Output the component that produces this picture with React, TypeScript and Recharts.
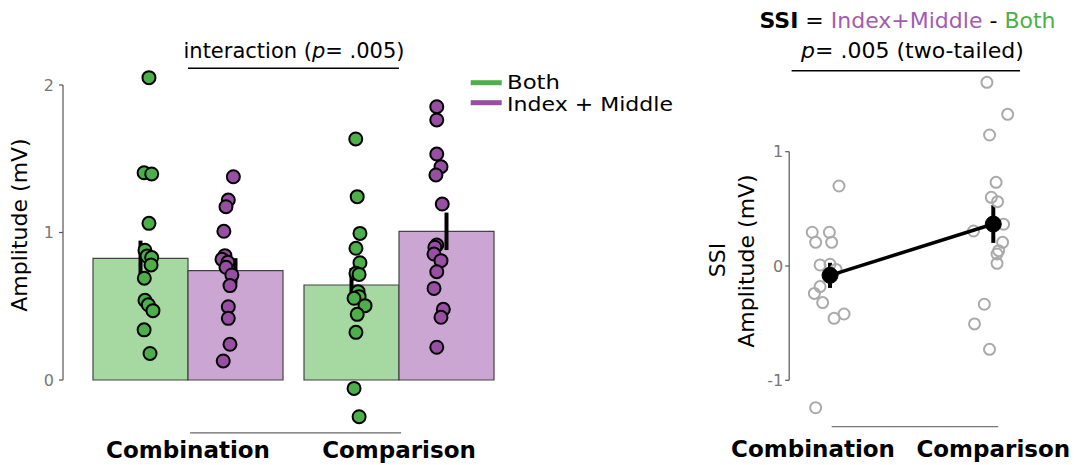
import React from 'react';
import { ComposedChart, Bar, Scatter, XAxis, YAxis, ErrorBar, ReferenceLine } from 'recharts';

// ---------- data ----------
const categories = ['Combination', 'Comparison'];
const bothMeans = [0.825, 0.644];
const bothSE = [0.12, 0.115];
const indexMiddleMeans = [0.741, 1.008];
const indexMiddleSE = [0.085, 0.127];

const combinationBoth = [2.05, 1.405, 1.397, 1.062, 0.88, 0.84, 0.83, 0.78, 0.69, 0.54, 0.51, 0.47, 0.34, 0.18];
const combinationBothJitter = [0.04, 0.017, 0.053, 0.04, 0.021, 0.031, 0.053, 0.05, 0.018, 0.021, 0.037, 0.059, 0.017, 0.045];
const combinationIM = [1.378, 1.22, 1.175, 1.008, 0.843, 0.818, 0.798, 0.764, 0.712, 0.64, 0.497, 0.418, 0.242, 0.129];
const combinationIMJitter = [-0.01, -0.034, -0.045, -0.055, -0.05, -0.064, -0.036, -0.045, -0.017, -0.026, -0.034, -0.034, -0.026, -0.058];
const comparisonBoth = [1.634, 1.243, 0.994, 0.893, 0.795, 0.723, 0.716, 0.599, 0.565, 0.554, 0.504, 0.445, 0.323, -0.057, -0.249];
const comparisonBothJitter = [0.02, 0.027, 0.04, 0.021, 0.04, 0.021, 0.036, 0.031, 0.036, 0.012, 0.064, 0.027, 0.021, 0.012, 0.036];
const comparisonIM = [1.853, 1.763, 1.532, 1.446, 1.39, 1.193, 0.915, 0.9, 0.854, 0.809, 0.734, 0.621, 0.479, 0.425, 0.222];
const comparisonIMJitter = [-0.046, -0.046, -0.046, -0.026, -0.05, -0.02, -0.046, -0.055, -0.059, -0.026, -0.046, -0.059, -0.015, -0.026, -0.046];

const ssiCombination = [0.295, 0.295, 0.207, 0.207, 0.7, 0.009, 0.015, -0.03, -0.18, -0.24, -0.32, -0.42, -0.458, -1.24];
const ssiCombinationJitter = [-0.109, -0.004, -0.088, 0.01, 0.055, -0.061, 0.0, 0.037, -0.061, -0.096, -0.045, 0.086, 0.025, -0.088];
const ssiComparison = [1.607, 1.327, 1.146, 0.732, 0.601, 0.563, 0.365, 0.306, 0.207, 0.134, 0.105, 0.023, -0.335, -0.507, -0.729];
const ssiComparisonJitter = [-0.039, 0.088, -0.023, 0.017, -0.012, 0.026, 0.063, -0.121, 0.057, 0.033, 0.023, 0.023, -0.055, -0.115, -0.023];
const ssiMeans = [-0.082, 0.367];
const ssiSE = [0.11, 0.165];

const leftTicks = [0, 1, 2];
const rightTicks = [-1, 0, 1];

// ---------- styling / layout ----------
const GREEN = '#4daf4a';
const PURPLE = '#984ea3';
const GREEN_LIGHT = '#a6d8a2';
const PURPLE_LIGHT = '#cca6d2';
const FONT = '"DejaVu Sans", "Liberation Sans", sans-serif';
const HALF_BAR = 0.225; // half bar width in group units
const LEFT_NUM_DOMAIN: [number, number] = [0.4076, 2.5];
const RIGHT_NUM_DOMAIN: [number, number] = [0.75, 2.49];

const barData = categories.map((c, i) => ({
  category: c,
  both: bothMeans[i],
  bothErr: bothSE[i],
  indexMiddle: indexMiddleMeans[i],
  indexMiddleErr: indexMiddleSE[i],
}));

const toPoints = (group: number, side: number, vals: number[], jit: number[]) =>
  vals.map((v, i) => ({ x: group + side * HALF_BAR + jit[i], y: v }));

const bothPoints = [
  ...toPoints(1, -1, combinationBoth, combinationBothJitter),
  ...toPoints(2, -1, comparisonBoth, comparisonBothJitter),
];
const imPoints = [
  ...toPoints(1, 1, combinationIM, combinationIMJitter),
  ...toPoints(2, 1, comparisonIM, comparisonIMJitter),
];
const ssiPoints = [
  ...ssiCombination.map((v, i) => ({ x: 1 + ssiCombinationJitter[i], y: v })),
  ...ssiComparison.map((v, i) => ({ x: 2 + ssiComparisonJitter[i], y: v })),
];
const ssiMeanData = ssiMeans.map((m, i) => ({ x: i + 1, y: m, se: ssiSE[i] }));

const GreenDot = (p: any) => <circle cx={p.cx} cy={p.cy} r={6.5} fill={GREEN} stroke="#000" strokeWidth={2} />;
const PurpleDot = (p: any) => <circle cx={p.cx} cy={p.cy} r={6.5} fill={PURPLE} stroke="#000" strokeWidth={2} />;
const OpenDot = (p: any) => <circle cx={p.cx} cy={p.cy} r={5.5} fill="none" stroke="#aaaaaa" strokeWidth={2} />;
const BlackDot = (p: any) => <circle cx={p.cx} cy={p.cy} r={8} fill="#000" stroke="#000" />;

const LeftCatTick = (p: any) => (
  <text x={p.x} y={p.y + 19} textAnchor="middle" fontSize={23} fontWeight="bold" fill="#000" fontFamily={FONT}>
    {p.payload.value}
  </text>
);
const rightLabelShift = [-17, 0];
const RightCatTick = (p: any) => {
  const idx = Math.round(p.payload.value) - 1;
  return (
    <text x={p.x + (rightLabelShift[idx] || 0)} y={p.y + 31} textAnchor="middle" fontSize={23} fontWeight="bold" fill="#000" fontFamily={FONT}>
      {categories[idx]}
    </text>
  );
};

export default function App() {
  return (
    <div style={{ position: 'absolute', left: 0, top: 0, width: 1074, height: 465, background: '#fff', fontFamily: FONT, overflow: 'hidden' }}>
      <div style={{ position: 'absolute', left: 0, top: 0 }}>
        <ComposedChart width={540} height={465} data={barData} margin={{ top: 55.5, right: 35.5, bottom: 0, left: 18 }} barGap={0} barCategoryGap={10.5}>
          <XAxis xAxisId="cat" dataKey="category" type="category" padding={{ left: 19.5, right: 0 }} height={26}
            axisLine={false} tickLine={false} tickSize={0} tickMargin={0} tick={LeftCatTick} interval={0} />
          <XAxis xAxisId="num" dataKey="x" type="number" domain={LEFT_NUM_DOMAIN} hide />
          <YAxis type="number" domain={[-0.4, 2.2]} ticks={leftTicks} width={45} axisLine={false} tickSize={4} tickMargin={5}
            tickLine={{ stroke: '#555', strokeWidth: 1.2 }} tick={{ fill: '#777', fontSize: 16 }} />
          <ReferenceLine xAxisId="num" segment={[{ x: LEFT_NUM_DOMAIN[0], y: 0 }, { x: LEFT_NUM_DOMAIN[0], y: 2 }]} stroke="#555" strokeWidth={1.2} ifOverflow="visible" />
          <Bar xAxisId="cat" dataKey="both" fill={GREEN_LIGHT} stroke="#444" strokeWidth={1.2} isAnimationActive={false}>
            <ErrorBar dataKey="bothErr" direction="y" width={0} strokeWidth={4} stroke="#000" />
          </Bar>
          <Bar xAxisId="cat" dataKey="indexMiddle" fill={PURPLE_LIGHT} stroke="#444" strokeWidth={1.2} isAnimationActive={false}>
            <ErrorBar dataKey="indexMiddleErr" direction="y" width={0} strokeWidth={4} stroke="#000" />
          </Bar>
          <Scatter xAxisId="num" data={bothPoints} dataKey="y" shape={GreenDot} isAnimationActive={false} />
          <Scatter xAxisId="num" data={imPoints} dataKey="y" shape={PurpleDot} isAnimationActive={false} />
          <ReferenceLine xAxisId="num" segment={[{ x: 1, y: 2.113 }, { x: 2, y: 2.113 }]} stroke="#000" strokeWidth={1.5} ifOverflow="visible" />
          <ReferenceLine xAxisId="num" segment={[{ x: 1.01, y: -0.359 }, { x: 2.01, y: -0.359 }]} stroke="#666" strokeWidth={1.2} ifOverflow="visible" />
        </ComposedChart>
      </div>
      <div style={{ position: 'absolute', left: 700, top: 0 }}>
        <ComposedChart width={374} height={465} margin={{ top: 60.26, right: 0.7, bottom: 0, left: 49.2 }}>
          <XAxis dataKey="x" type="number" domain={RIGHT_NUM_DOMAIN} ticks={[1, 2]} height={39} axisLine={false} tickLine={false}
            tickSize={0} tickMargin={0} tick={RightCatTick} interval={0} />
          <YAxis type="number" domain={[-1.4, 1.8]} ticks={rightTicks} width={40} axisLine={false} tickSize={4} tickMargin={2}
            tickLine={{ stroke: '#555', strokeWidth: 1.2 }} tick={{ fill: '#777', fontSize: 16 }} />
          <ReferenceLine segment={[{ x: RIGHT_NUM_DOMAIN[0], y: -1 }, { x: RIGHT_NUM_DOMAIN[0], y: 1 }]} stroke="#555" strokeWidth={1.2} ifOverflow="visible" />
          <Scatter data={ssiPoints} dataKey="y" shape={OpenDot} isAnimationActive={false} />
          <Scatter data={ssiMeanData} dataKey="y" shape={BlackDot} line={{ stroke: '#000', strokeWidth: 3.5 }} isAnimationActive={false}>
            <ErrorBar dataKey="se" direction="y" width={0} strokeWidth={4} stroke="#000" />
          </Scatter>
          <ReferenceLine segment={[{ x: 0.765, y: 1.709 }, { x: 2.164, y: 1.709 }]} stroke="#000" strokeWidth={1.5} ifOverflow="visible" />
          <ReferenceLine segment={[{ x: 1.01, y: -1.406 }, { x: 2.03, y: -1.406 }]} stroke="#777" strokeWidth={1.2} ifOverflow="visible" />
        </ComposedChart>
      </div>
      <svg width={1074} height={465} style={{ position: 'absolute', left: 0, top: 0, pointerEvents: 'none' }} fontFamily={FONT}>
        <text x={294} y={57.5} textAnchor="middle" fontSize={21} fill="#000">
          interaction (<tspan fontStyle="italic">p</tspan>= .005)
        </text>
        <text transform="translate(27,225) rotate(-90)" textAnchor="middle" fontSize={22} fill="#000">Amplitude (mV)</text>
        <line x1={470.7} x2={501.7} y1={82.7} y2={82.7} stroke={GREEN} strokeWidth={5} />
        <text x={507} y={88.5} fontSize={19} fill="#000" textLength={53} lengthAdjust="spacingAndGlyphs">Both</text>
        <line x1={470.7} x2={501.7} y1={102.7} y2={102.7} stroke={PURPLE} strokeWidth={5} />
        <text x={507} y={111} fontSize={19} fill="#000" textLength={166} lengthAdjust="spacingAndGlyphs">Index + Middle</text>

        <text x={907.5} y={28.3} textAnchor="middle" fontSize={22} fill="#000">
          <tspan fontWeight="bold">SSI</tspan> = <tspan fill="#a35bb0">Index+Middle</tspan> - <tspan fill={GREEN}>Both</tspan>
        </text>
        <text x={912.5} y={57.7} textAnchor="middle" fontSize={22} fill="#000">
          <tspan fontStyle="italic">p</tspan>= .005 (two-tailed)
        </text>
        <text transform="translate(725,260) rotate(-90)" textAnchor="middle" fontSize={22} fill="#000">SSI</text>
        <text transform="translate(754,261) rotate(-90)" textAnchor="middle" fontSize={22} fill="#000">Amplitude (mV)</text>
      </svg>
    </div>
  );
}
